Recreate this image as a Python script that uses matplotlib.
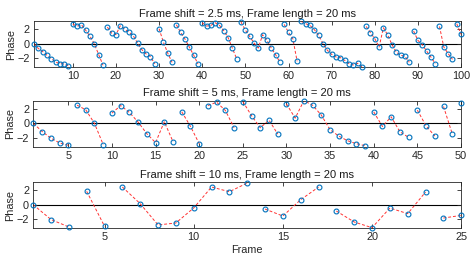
import numpy as np
import matplotlib
matplotlib.use('Agg')
import matplotlib.pyplot as plt

# phase per frame
phase_25 = [0, -0.66, -1.08, -1.58, -2.04, -2.52, -2.72, -2.78, -3.04,
            2.65, 2.4, 2.58, 1.82, 1.0, -0.04, -1.5, -2.95,
            2.26, 1.44, 1.22, 2.45, 1.99, 1.58, 1.09, 0.08, -0.82, -1.41, -1.78, -2.75,
            2.04, 0.2, -1.28, -2.56,
            2.58, 1.54, 0.63, -0.46, -1.55, -2.77,
            2.86, 2.4, 2.49, 2.86, 2.49, 1.77, 0.82, -0.64, -2.09,
            2.94, 1.85, 0.99, 0.08, -0.6, 1.22, 0.45, -0.6, -1.5, -2.54,
            2.63, 1.54, 0.68, -2.41,
            3.03, 2.72, 2.49, 1.9, 1.13, 0.0, -0.91, -1.46, -1.82, -1.9, -2.27, -2.72, -2.91, -2.68, -3.18,
            2.35, 1.49, 0.68, -0.46, 2.17, 1.17, -0.14, -1.18, -1.59, -1.73, -2.54,
            1.72, 0.45, -0.14, -1.0, -1.82, -2.72,
            2.35, -0.46, -1.36, -2.14,
            2.72, 1.27]
phase_5 = [0, -1.1, -2.0, -2.65, -2.97, 2.48, 1.85, 0.0, -2.88, 1.40,
           2.43, 1.49, 0.18, -1.4, -2.61, 0.23, -2.48, 1.58, -0.4, -2.75,
           2.43, 2.88, 1.76, -0.59, 2.97, 1.05, -0.59, 0.45, -1.45, 2.65,
           0.72, 3.1, 2.47, 1.12, -0.86, -1.72, -2.35, -2.75, -3.02, 1.57,
           -0.41, 0.9, -1.13, -1.9, 1.8, -0.32, -1.72, 2.3, -1.4, 2.75]
phase_10 = [0, -2.07, -3.1, 1.85, -3.0, 2.45, 0.14, -2.82, -2.55, -0.46,
            2.45, 1.8, 3.0, -0.61, -1.58, 0.69, 2.44, -0.89, -2.41, -3.2,
            -0.47, -1.25, 1.75, -1.86, -1.49]

# frames where the dashed line starts a new piece
starts_25 = [10, 18, 30, 34, 40, 49, 59, 63, 78, 89, 95, 99]
starts_5 = [6, 10, 18, 21, 25, 30, 40, 45, 48, 50]
starts_10 = [4, 6, 14, 18, 24]

titles = ['Frame shift = 2.5 ms, Frame length = 20 ms',
          'Frame shift = 5 ms, Frame length = 20 ms',
          'Frame shift = 10 ms, Frame length = 20 ms']
xstep = [10, 5, 5]

plt.rcParams['font.family'] = ['Liberation Sans', 'DejaVu Sans']
plt.rcParams['font.size'] = 7.8

fig = plt.figure(figsize=(4.74, 2.62), dpi=100)
boxes = [[0.0717, 0.744, 0.901, 0.176],
         [0.0705, 0.439, 0.902, 0.177],
         [0.0700, 0.131, 0.903, 0.173]]

blue = '#0072BD'
for i, (ph, st) in enumerate([(phase_25, starts_25), (phase_5, starts_5), (phase_10, starts_10)]):
    ax = fig.add_axes(boxes[i])
    ph = np.array(ph)
    fr = np.arange(1, len(ph) + 1)
    # dashed line with gaps
    lx, ly = [], []
    for k in range(len(ph)):
        if fr[k] in st:
            lx.append(np.nan); ly.append(np.nan)
        lx.append(fr[k]); ly.append(ph[k])
    ax.axhline(0, color='k', lw=0.8, zorder=1)
    ax.plot(lx, ly, '--', color='#ff3333', lw=0.7, dashes=(3, 2), zorder=2)
    ax.plot(fr, ph, 'o', mfc='none', mec=blue, ms=3.5, mew=0.8, zorder=3, clip_on=False)
    ax.set_xlim(1, len(ph))
    ax.set_ylim(-3.2, 3.1)
    ax.set_xticks(np.arange(xstep[i], len(ph) + 1, xstep[i]))
    ax.set_yticks([-2, 0, 2])
    ax.tick_params(direction='in', length=3, width=0.6, top=True, right=True,
                   color='#262626', labelcolor='#262626', pad=3)
    for s in ax.spines.values():
        s.set_color('#262626')
        s.set_linewidth(0.6)
    ax.set_title(titles[i], fontsize=8, pad=3, color='#1a1a1a')
    ax.set_ylabel('Phase', labelpad=1, color='#262626')
    if i == 2:
        ax.set_xlabel('Frame', labelpad=2, color='#262626')

fig.savefig('out.png', dpi=100)
